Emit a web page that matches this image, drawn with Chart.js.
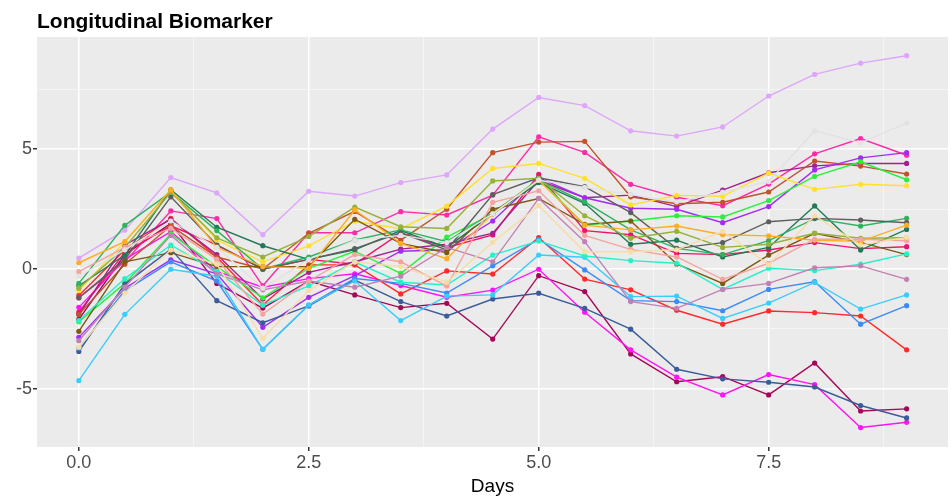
<!DOCTYPE html>
<html>
<head>
<meta charset="utf-8">
<script src="https://cdn.jsdelivr.net/npm/chart.js@4"></script>
<style>
  html, body { margin: 0; padding: 0; background: #fff; }
  #wrap { width: 952px; height: 498px; position: relative; }
</style>
</head>
<body>
<div id="wrap"><canvas id="bioChart"></canvas></div>
<script>
// visit days
const days = [0, 0.5, 1, 1.5, 2, 2.5, 3, 3.5, 4, 4.5, 5, 5.5, 6, 6.5, 7, 7.5, 8, 8.5, 9];

// biomarker value per subject, one value per visit day
const lavender  = [0.45, 1.62, 3.81, 3.17, 1.43, 3.24, 3.04, 3.6, 3.92, 5.83, 7.15, 6.81, 5.76, 5.54, 5.92, 7.21, 8.11, 8.58, 8.89];
const lightGray = [-0.3, 0.8, 2.0, 0.9, -0.8, 0.4, 1.2, 1.4, 1.1, 2.3, 3.7, 3.4, 3.1, 2.8, 3.2, 3.64, 5.76, 5.26, 6.08];
const sienna    = [-1.9, 0.2, 1.8, 0.5, 0.0, 1.49, 2.4, 1.2, 2.49, 4.85, 5.29, 5.32, 3.01, 2.72, 2.78, 3.21, 4.5, 4.29, 3.96];
const deepPink  = [-1.2, 0.3, 2.42, 2.1, -0.7, 1.51, 1.51, 2.39, 2.25, 3.08, 5.51, 4.86, 3.53, 2.99, 2.64, 3.54, 4.8, 5.44, 4.74];
const gold      = [-0.9, 1.14, 3.3, 1.2, 0.3, 0.96, 1.99, 1.68, 2.62, 4.19, 4.4, 3.78, 2.67, 3.07, 3.03, 4.0, 3.32, 3.53, 3.47];
const olive     = [-0.8, 0.9, 3.2, 1.3, 0.5, 1.35, 2.58, 1.76, 1.69, 3.67, 3.78, 2.22, 1.28, 1.57, 0.9, 1.03, 1.49, 1.28, 1.3];
const darkGray  = [-1.2, 0.4, 3.01, 1.0, -0.01, 0.4, 0.85, 1.51, 0.8, 3.1, 3.8, 3.43, 2.35, 0.85, 1.1, 1.97, 2.11, 2.04, 1.93];
const green     = [-2.2, -0.6, 1.46, 0.1, -1.2, 0.03, 0.74, -0.18, 1.33, 2.3, 3.75, 1.83, 2.0, 2.22, 2.17, 2.85, 3.86, 4.47, 3.72];
const purple    = [-2.85, -0.8, 0.38, -0.2, -2.43, -1.18, -0.28, 0.74, 0.8, 2.0, 3.8, 2.97, 2.53, 2.49, 1.93, 2.6, 4.13, 4.63, 4.85];
const plumDark  = [-1.9, 1.0, 2.07, 0.6, -1.25, -0.14, 0.3, 0.83, 1.03, 1.49, 3.7, 2.97, 3.08, 2.6, 3.29, 4.01, 4.3, 4.4, 4.4];
const seaGreen  = [-0.6, 1.82, 3.2, 1.6, 0.0, 0.5, 1.21, 1.63, 1.14, 2.35, 3.7, 2.8, 1.63, 0.86, 0.6, 1.18, 2.1, 1.79, 2.11];
const darkGreen = [-0.7, 0.58, 3.3, 1.74, 0.97, 0.4, 0.8, 1.6, 0.9, 2.3, 3.6, 2.74, 1.03, 1.2, 0.5, 0.9, 2.63, 0.79, 1.65];
const brown     = [-2.6, 0.3, 0.68, 0.1, 0.1, 0.1, 2.07, 1.07, 0.68, 2.49, 2.94, 1.86, 2.0, 0.21, -0.6, 0.58, 1.49, 1.11, 0.6];
const orange    = [0.26, 1.14, 3.3, 0.9, 0.1, 0.03, 2.46, 1.07, 0.43, 2.3, 3.7, 1.83, 1.63, 1.79, 1.43, 1.38, 1.2, 1.15, 1.83];
const salmon    = [-0.11, 0.9, 1.7, 0.4, -1.88, -0.5, 0.6, 0.3, -0.71, 2.78, 3.26, 1.4, 0.82, 0.5, -0.43, 0.24, 1.24, 1.24, 1.18];
const wheat     = [-3.26, -1.0, 0.8, 0.2, -2.89, -0.9, 0.3, 0.1, -0.55, 1.11, 2.64, 0.72, 0.72, 0.8, 1.57, 0.17, 2.22, 1.0, 1.32];
const mauve     = [-2.99, -0.76, 1.4, -0.2, -0.87, -0.5, -0.76, -0.3, 0.9, 0.3, 2.94, 1.14, -1.36, -1.64, -0.85, -0.6, 0.05, 0.13, -0.43];
const aqua      = [-2.15, -0.4, 1.0, -0.1, -1.51, -0.7, 0.29, -0.55, -0.67, 0.58, 1.17, 0.54, 0.35, 0.24, -0.85, 0.03, -0.07, 0.2, 0.63];
const skyBlue   = [-4.65, -1.89, -0.01, -0.3, -3.35, -1.5, -0.5, -2.15, -1.13, -1.08, 0.58, 0.49, -1.15, -1.13, -2.06, -1.42, -0.56, -1.67, -1.08];
const dodger    = [-3.3, -0.9, 0.3, -0.5, -3.35, -1.5, -0.4, -0.6, -1.0, 0.13, 1.24, -0.04, -1.32, -1.36, -1.74, -0.85, -0.53, -2.3, -1.53];
const red       = [-1.1, 0.8, 2.11, 0.5, -1.5, 0.17, 0.17, -1.04, -0.08, -0.21, 1.31, -0.42, -0.87, -1.72, -2.3, -1.75, -1.82, -1.96, -3.37];
const magenta   = [-1.6, 0.4, 1.56, -0.1, -0.76, -0.4, -0.2, -0.69, -1.18, -0.88, -0.01, -1.8, -3.37, -4.51, -5.25, -4.4, -4.82, -6.61, -6.39];
const maroon    = [-2.1, 0.6, 1.9, -0.6, -1.63, -0.5, -1.08, -1.61, -1.43, -2.92, -0.28, -0.94, -3.54, -4.7, -4.49, -5.25, -3.92, -5.92, -5.83];
const steel     = [-3.44, -0.63, 0.83, -1.32, -2.24, -1.54, -0.46, -1.36, -1.96, -1.25, -1.01, -1.64, -2.51, -4.18, -4.58, -4.72, -4.92, -5.69, -6.21];
const crimson   = [-1.8, 0.7, 1.8, 1.0, 0.0, 0.4, 0.2, 1.5, 0.9, 1.42, 3.94, 1.6, 1.43, 0.65, 0.6, 0.79, 1.1, 0.85, 0.93];

const subjects = [
  [lightGray, '#E2E2E2'], [wheat, '#F7DDA8'], [salmon, '#F5A3A0'], [mauve, '#C281B3'],
  [aqua, '#26F0C8'], [skyBlue, '#3ACCFA'], [dodger, '#3D8BF5'], [steel, '#3A5C99'],
  [orange, '#FFAE24'], [olive, '#96B23A'], [brown, '#7D5A12'], [darkGray, '#5E5E5E'],
  [seaGreen, '#2DB35E'], [darkGreen, '#217A55'], [green, '#2AF03C'], [gold, '#FFE02E'],
  [sienna, '#C2522C'], [purple, '#A52BF2'], [plumDark, '#A2218F'], [red, '#FF2A2A'],
  [crimson, '#F0136B'], [deepPink, '#FF2AA8'], [magenta, '#FF14F5'], [maroon, '#A30858'],
  [lavender, '#DDA6FA']
];

// axis breaks: labelled majors, unlabelled minor grid lines
const xMajor = [0, 2.5, 5, 7.5];
const xMinor = [1.25, 3.75, 6.25, 8.75];
const yMajor = [-5, 0, 5];
const yMinor = [-2.5, 2.5, 7.5];

const FONT = '"Liberation Sans", Arial, sans-serif';

const panelBg = {
  id: 'panelBg',
  beforeDraw(chart) {
    const { ctx, chartArea: a } = chart;
    ctx.save();
    ctx.fillStyle = '#EBEBEB';
    ctx.fillRect(a.left, a.top, a.right - a.left, a.bottom - a.top);
    ctx.restore();
  }
};

const plotTitle = {
  id: 'plotTitle',
  afterDraw(chart) {
    const ctx = chart.ctx;
    ctx.save();
    ctx.font = 'bold 21px ' + FONT;
    ctx.fillStyle = '#000';
    ctx.textBaseline = 'alphabetic';
    ctx.fillText('Longitudinal Biomarker', 37, 28);
    ctx.restore();
  }
};

function breaks(major, minor) {
  return (scale) => {
    scale.ticks = major.concat(minor).map(v => ({ value: v }));
  };
}
const isMajor = (list) => (c) => list.includes(c.tick.value);

new Chart(document.getElementById('bioChart'), {
  type: 'line',
  data: {
    datasets: subjects.map(([vals, col]) => ({
      data: vals.map((v, i) => ({ x: days[i], y: v })),
      borderColor: col,
      backgroundColor: col,
      borderWidth: 1.4,
      pointRadius: 2.6,
      pointBorderWidth: 0,
      tension: 0
    }))
  },
  options: {
    responsive: true,
    maintainAspectRatio: false,
    animation: false,
    layout: { padding: { top: 37, right: 0, left: 0, bottom: 0 } },
    plugins: { legend: { display: false }, tooltip: { enabled: false } },
    scales: {
      x: {
        type: 'linear',
        min: -0.455, max: 9.45,
        afterBuildTicks: breaks(xMajor, xMinor),
        afterFit: (s) => { s.height = 51; },
        border: { display: false },
        grid: {
          color: (c) => isMajor(xMajor)(c) ? '#FFFFFF' : '#F7F7F7',
          lineWidth: (c) => isMajor(xMajor)(c) ? 1.5 : 0.8,
          tickLength: 4,
          tickColor: (c) => isMajor(xMajor)(c) ? '#333333' : 'rgba(0,0,0,0)'
        },
        ticks: {
          color: '#4D4D4D',
          font: { size: 18, family: FONT },
          padding: 1,
          maxRotation: 0,
          callback: (v) => xMajor.includes(v) ? v.toFixed(1) : ''
        },
        title: {
          display: true, text: 'Days', color: '#000',
          font: { size: 19, family: FONT },
          padding: { top: 0, bottom: 0 }
        }
      },
      y: {
        type: 'linear',
        min: -7.42, max: 9.67,
        afterBuildTicks: breaks(yMajor, yMinor),
        afterFit: (s) => { s.width = 37; },
        border: { display: false },
        grid: {
          color: (c) => isMajor(yMajor)(c) ? '#FFFFFF' : '#F7F7F7',
          lineWidth: (c) => isMajor(yMajor)(c) ? 1.5 : 0.8,
          tickLength: 4,
          tickColor: (c) => isMajor(yMajor)(c) ? '#333333' : 'rgba(0,0,0,0)'
        },
        ticks: {
          color: '#4D4D4D',
          font: { size: 18, family: FONT },
          padding: 1,
          callback: (v) => yMajor.includes(v) ? String(v) : ''
        }
      }
    }
  },
  plugins: [panelBg, plotTitle]
});
</script>
</body>
</html>
